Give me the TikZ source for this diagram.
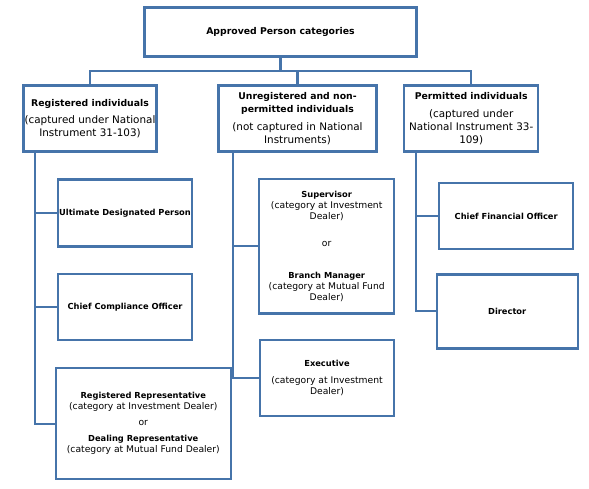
\documentclass[tikz,border=0pt]{standalone}
\usepackage{fontspec}
\setmainfont{DejaVu Sans}
\usetikzlibrary{calc}
\definecolor{boxblue}{RGB}{70,116,170}

% Bold headings, a little smaller than the regular text around them
\newcommand{\bighd}[1]{{\fontsize{9.3}{13}\selectfont\bfseries #1}}
\newcommand{\smallhd}[1]{{\fontsize{8.3}{11}\selectfont\bfseries #1}}

\begin{document}
\begin{tikzpicture}[x=1pt, y=-1pt, thick]

  % --- GENERAL SETTINGS ---
  \useasboundingbox (0,0) rectangle (589,489);

  % Boxes for the categories (large text) and the roles (small text)
  \tikzstyle{cat}=[draw=boxblue, line width=2.4pt, align=center, inner sep=1pt, font=\fontsize{10.4}{13}\selectfont]
  \tikzstyle{role}=[cat, font=\fontsize{9.2}{11}\selectfont]
  \tikzstyle{link}=[draw=boxblue, line width=2.2pt]

  % --- TOP ---
  \node[cat, minimum width=272pt, minimum height=49pt] (top) at (280.5, 32) {\bighd{Approved Person categories}};

  % --- CATEGORIES ---
  \node[cat, minimum width=133pt, minimum height=66pt] (reg) at (90, 118.7)
    {\bighd{Registered individuals}\\[4.5pt] (captured under National\\ Instrument 31-103)};
  \node[cat, minimum width=158pt, minimum height=66pt] (unreg) at (297.5, 118.7)
    {\bighd{Unregistered and non-}\\ \bighd{permitted individuals}\\[5pt] (not captured in National\\ Instruments)};
  \node[cat, minimum width=134pt, minimum height=66pt] (perm) at (471.2, 118.7)
    {\bighd{Permitted individuals}\\[4.5pt] (captured under\\ National Instrument 33-\\ 109)};

  % Bus between the top box and the categories
  \coordinate (bus) at (280.5, 71);
  \draw[link] (top.south) -- (bus);
  \draw[link] (reg.north) |- (bus) -| (perm.north);
  \draw[link] (bus -| unreg.north) -- (unreg.north);

  % --- REGISTERED INDIVIDUALS ---
  \node[role, minimum width=133pt, minimum height=67pt] (udp) at (125, 213) {\smallhd{Ultimate Designated Person}};
  \node[role, minimum width=134pt, minimum height=66pt] (cco) at (125, 307.2) {\smallhd{Chief Compliance Officer}};
  \node[role, minimum width=175pt, minimum height=111pt] (rr) at (143.3, 423.7)
    {\smallhd{Registered Representative}\\ (category at Investment Dealer)\\[5pt] or\\[5pt]
     \smallhd{Dealing Representative}\\ (category at Mutual Fund Dealer)};

  \draw[link] (reg.south west) ++(12.7,0) coordinate (rt) |- (rr.west);
  \draw[link] (udp.west) -- (udp.west -| rt);
  \draw[link] (cco.west) -- (cco.west -| rt);

  % --- UNREGISTERED AND NON-PERMITTED ---
  \node[role, minimum width=135pt, minimum height=134pt] (sup) at (326.7, 246.3)
    {\smallhd{Supervisor}\\ (category at Investment\\ Dealer)\\[16.5pt] or\\[21pt]
     \smallhd{Branch Manager}\\ (category at Mutual Fund\\ Dealer)};
  \node[role, minimum width=134pt, minimum height=76pt] (exec) at (327, 378)
    {\smallhd{Executive}\\[5.5pt] (category at Investment\\ Dealer)};

  \draw[link] (unreg.south west) ++(16,0) coordinate (ut) |- (exec.west);
  \draw[link] (sup.west) -- (sup.west -| ut);

  % --- PERMITTED INDIVIDUALS ---
  \node[role, minimum width=134pt, minimum height=66pt] (cfo) at (506.2, 216.3) {\smallhd{Chief Financial Officer}};
  \node[role, minimum width=141pt, minimum height=74pt] (dir) at (507.2, 311.3) {\smallhd{Director}};

  \draw[link] (perm.south west) ++(13,0) coordinate (pt) |- (dir.west);
  \draw[link] (cfo.west) -- (cfo.west -| pt);

\end{tikzpicture}
\end{document}
